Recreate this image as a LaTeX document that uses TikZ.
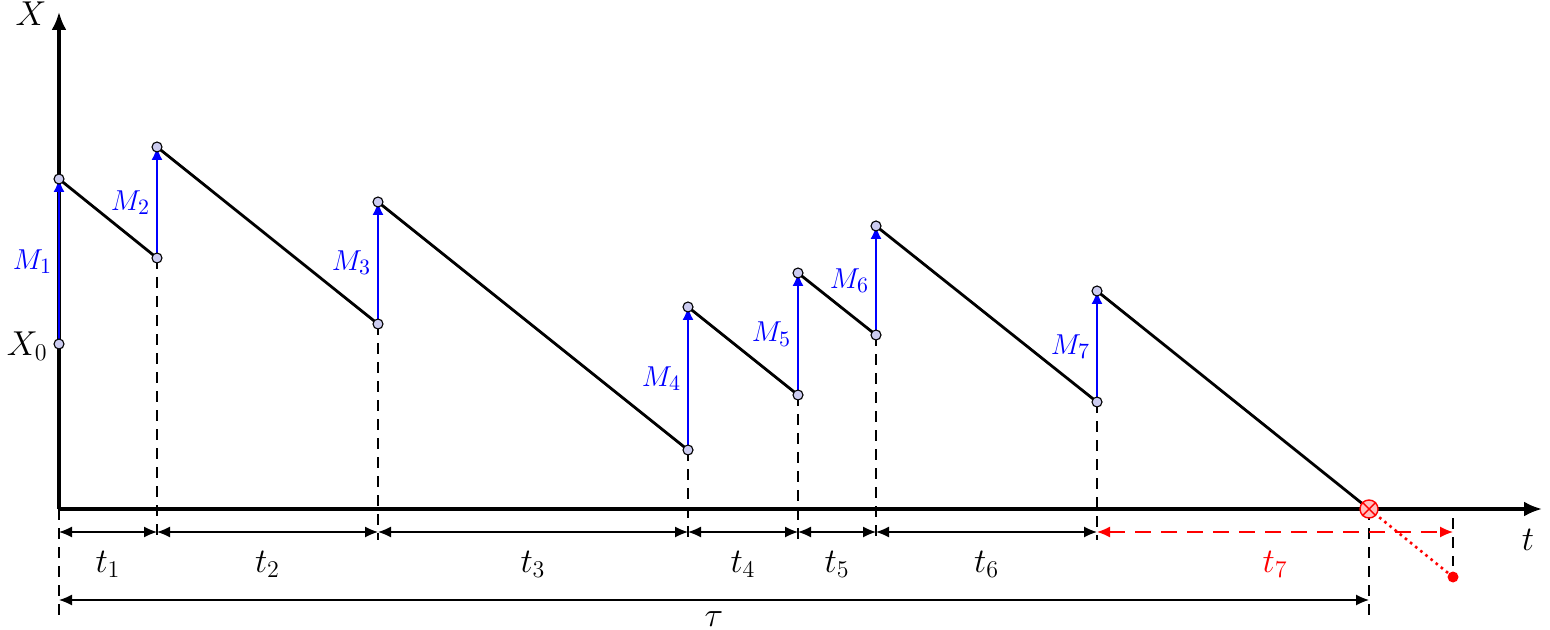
\documentclass[tikz,border=0pt]{standalone}
\usetikzlibrary{arrows.meta}
\definecolor{ptfill}{rgb}{0.80,0.80,0.94}
\begin{document}
\begin{tikzpicture}[x=0.5pt,y=-0.5pt,
  axis/.style={line width=1.6pt,-{Latex[length=9pt,width=7.5pt]}},
  saw/.style={line width=1.4pt},
  jump/.style={blue,line width=0.9pt,-{Latex[length=6.5pt,width=5.5pt]}},
  jlabel/.style={blue,font=\fontsize{15.5}{18}\selectfont,anchor=east,inner sep=1pt},
  drop/.style={line width=0.65pt,dash pattern=on 5.5pt off 4pt},
  dimtip/.style={Latex[length=6.5pt,width=5.5pt]},
  dim/.style={line width=0.65pt,{Latex[length=6.5pt,width=5.5pt]}-{Latex[length=6.5pt,width=5.5pt]}},
  pt/.style={circle,draw=black,fill=ptfill,line width=0.55pt,inner sep=0pt,minimum size=5pt},
  lab/.style={font=\fontsize{17.5}{20}\selectfont},
]
\useasboundingbox (0,0) rectangle (1550,630);
% coordinates
\coordinate (O) at (59,509);
\coordinate (Ytop) at (59,12);
\coordinate (Xend) at (1542,509);
\coordinate (x0) at (59,344);
\coordinate (a1) at (59,179);  \coordinate (b1) at (157,258);
\coordinate (a2) at (157,147); \coordinate (b2) at (378,324);
\coordinate (a3) at (378,202); \coordinate (b3) at (688,450);
\coordinate (a4) at (688,307); \coordinate (b4) at (798,395);
\coordinate (a5) at (798,273); \coordinate (b5) at (876,335);
\coordinate (a6) at (876,226); \coordinate (b6) at (1097,402);
\coordinate (a7) at (1097,291); \coordinate (hit) at (1369,509);
\coordinate (ext) at (1453,577);
% dimension row coordinates
\coordinate (d0) at (59,532);  \coordinate (d1) at (157,532);
\coordinate (d2) at (378,532); \coordinate (d3) at (688,532);
\coordinate (d4) at (798,532); \coordinate (d5) at (876,532);
\coordinate (d6) at (1097,532); \coordinate (d7) at (1453,532);
\coordinate (s0) at (59,600);  \coordinate (s1) at (1369,600);
% dashed drop lines
\coordinate (e0) at (59,615);
\coordinate (e1) at (157,540); \coordinate (e2) at (378,540);
\coordinate (e3) at (688,540); \coordinate (e4) at (798,540);
\coordinate (e5) at (876,540); \coordinate (e6) at (1097,540);
\coordinate (e7) at (1369,620);
\coordinate (f7t) at (1453,518); \coordinate (f7b) at (1453,566);
\draw[drop] (O) -- (e0);
\draw[drop] (b1) -- (e1);
\draw[drop] (b2) -- (e2);
\draw[drop] (b3) -- (e3);
\draw[drop] (b4) -- (e4);
\draw[drop] (b5) -- (e5);
\draw[drop] (b6) -- (e6);
\draw[drop] (hit) -- (e7);
\draw[drop] (f7t) -- (f7b);
% axes
\draw[axis] (O) -- (Ytop);
\draw[axis] (O) -- (Xend);
\node[lab] (Xlab) at (31,14) {$X$};
\node[lab] (tlab) at (1528,540) {$t$};
\node[lab,anchor=east,inner sep=2pt] (X0lab) at (52,346) {$X_0$};
% sawtooth
\draw[saw] (a1) -- (b1);
\draw[saw] (a2) -- (b2);
\draw[saw] (a3) -- (b3);
\draw[saw] (a4) -- (b4);
\draw[saw] (a5) -- (b5);
\draw[saw] (a6) -- (b6);
\draw[saw] (a7) -- (hit);
% jumps
\draw[jump] (x0) -- (a1) node[jlabel,pos=0.5,left=2pt] (m1) {$M_1$};
\draw[jump] (b1) -- (a2) node[jlabel,pos=0.5,left=2pt] (m2) {$M_2$};
\draw[jump] (b2) -- (a3) node[jlabel,pos=0.5,left=2pt] (m3) {$M_3$};
\draw[jump] (b3) -- (a4) node[jlabel,pos=0.5,left=2pt] (m4) {$M_4$};
\draw[jump] (b4) -- (a5) node[jlabel,pos=0.5,left=2pt] (m5) {$M_5$};
\draw[jump] (b5) -- (a6) node[jlabel,pos=0.5,left=2pt] (m6) {$M_6$};
\draw[jump] (b6) -- (a7) node[jlabel,pos=0.5,left=2pt] (m7) {$M_7$};
% points
\foreach \p in {x0,a1,b1,a2,b2,a3,b3,a4,b4,a5,b5,a6,b6,a7}
  \node[pt] at (\p) {};
% overshoot
\draw[red,line width=1.3pt,dotted] (hit) -- (ext);
\node[circle,fill=red,inner sep=0pt,minimum size=5.5pt] (extdot) at (ext) {};
\node[circle,draw=red,fill=red!25,line width=0.7pt,minimum size=9pt,inner sep=0pt] (hitc) at (hit) {};
\draw[red,line width=0.7pt] (hitc.north west) -- (hitc.south east);
\draw[red,line width=0.7pt] (hitc.south west) -- (hitc.north east);
% dimensions
\draw[dim] (d0) -- (d1) node[lab,midway,below=6pt] (t1) {$t_1$};
\draw[dim] (d1) -- (d2) node[lab,midway,below=6pt] (t2) {$t_2$};
\draw[dim] (d2) -- (d3) node[lab,midway,below=6pt] (t3) {$t_3$};
\draw[dim] (d3) -- (d4) node[lab,midway,below=6pt] (t4) {$t_4$};
\draw[dim] (d4) -- (d5) node[lab,midway,below=6pt] (t5) {$t_5$};
\draw[dim] (d5) -- (d6) node[lab,midway,below=6pt] (t6) {$t_6$};
\draw[dim,red,dash pattern=on 8pt off 5pt] (d6) -- (d7) node[lab,pos=0.5,below=6pt] (t7) {$t_7$};
\draw[dim] (s0) -- (s1) node[lab,midway,below=2pt] (tau) {$\tau$};
\end{tikzpicture}
\end{document}
